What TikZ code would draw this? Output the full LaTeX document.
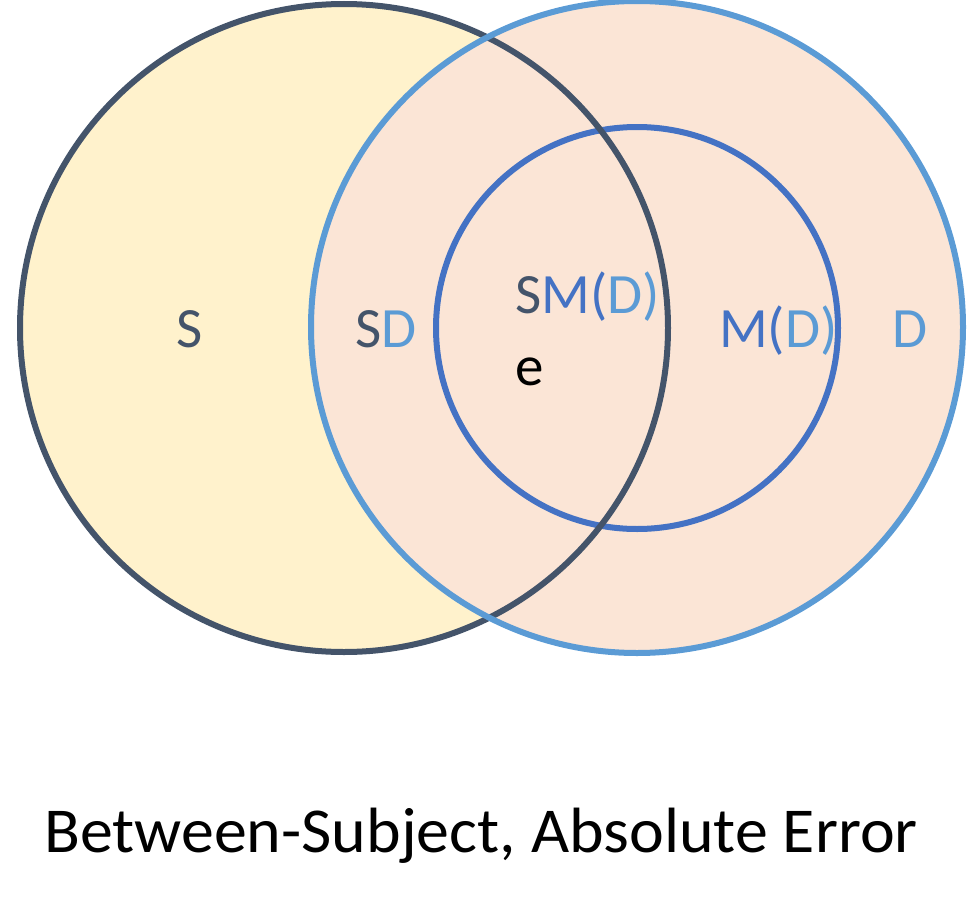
\documentclass[tikz,border=0pt]{standalone}
\usepackage{fontspec}
\setmainfont{Carlito}
\definecolor{sfill}{HTML}{FFF2CC}
\definecolor{dfill}{HTML}{FBE5D6}
\definecolor{sline}{HTML}{44546A}
\definecolor{dline}{HTML}{5B9BD5}
\definecolor{mline}{HTML}{4472C4}
\begin{document}
\begin{tikzpicture}[x=1pt,y=-1pt,
  ring/.style={line width=6pt},
  lbl/.style={font=\fontsize{57}{62}\selectfont, inner sep=0pt, anchor=base west}]
\useasboundingbox (0,0) rectangle (980,910);
\coordinate (cS) at (344,328);
\coordinate (cD) at (637,327);
\coordinate (cM) at (637,328);
% fills
\fill[sfill] (cS) circle[radius=324];
\fill[dfill] (cD) circle[radius=326];
% outlines
\draw[ring, mline] (cM) circle[radius=201];
\draw[ring, sline] (cS) circle[radius=324];
\draw[ring, dline] (cD) circle[radius=326];
% labels
\node[lbl, text=sline] (tS) at (176,347) {S};
\node[lbl] (tSD) at (355,347) {\textcolor{sline}{S}\textcolor{dline}{D}};
\node[lbl] (tSMD) at (515,313) {\textcolor{sline}{S}\textcolor{mline}{M(}\textcolor{dline}{D)}};
\node[lbl, text=black] (te) at (515,385) {e};
\node[lbl] (tMD) at (719,347) {\textcolor{mline}{M(}\textcolor{dline}{D)}};
\node[lbl, text=dline] (tD) at (892,347) {D};
\node[font=\fontsize{64}{70}\selectfont, inner sep=0pt, anchor=base, xscale=1.03] (cap) at (481,852) {Between-Subject, Absolute Error};
\end{tikzpicture}
\end{document}
